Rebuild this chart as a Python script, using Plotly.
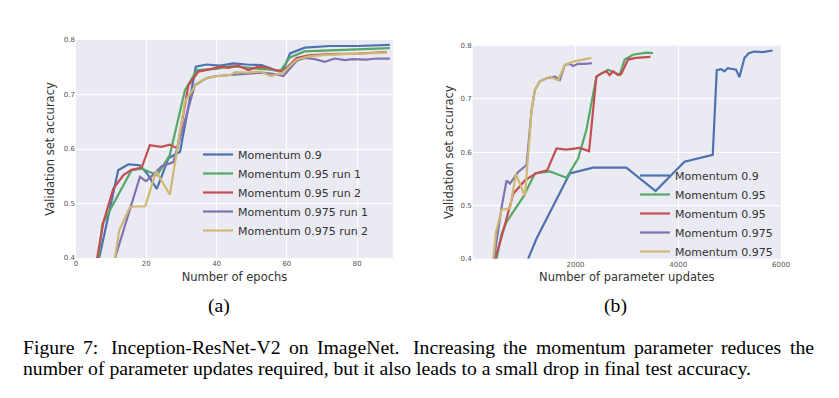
import plotly.graph_objects as go

# ---------------- data ----------------
# (a) accuracy vs epochs
ep_m09 = [6.6, 12.0, 14.9, 18.2, 20.2, 23.0, 26.3, 29.6, 34.1, 37.1, 41.0, 44.8, 48.5, 52.8, 56.6, 58.8, 60.9, 65.1, 72.3, 80.0, 89.3]
acc_m09 = [0.40, 0.561, 0.572, 0.570, 0.555, 0.527, 0.583, 0.595, 0.751, 0.755, 0.753, 0.757, 0.755, 0.754, 0.745, 0.742, 0.7755, 0.786, 0.789, 0.789, 0.791]

ep_m095_r1 = [6.4, 7.5, 15.8, 18.7, 21.0, 23.1, 26.7, 31.0, 34.4, 40.0, 44.0, 48.0, 52.0, 56.0, 58.0, 60.9, 65.0, 72.3, 80.0, 89.3]
acc_m095_r1 = [0.40, 0.462, 0.561, 0.564, 0.558, 0.552, 0.589, 0.708, 0.745, 0.747, 0.752, 0.750, 0.748, 0.745, 0.742, 0.768, 0.779, 0.781, 0.782, 0.785]

ep_m095_r2 = [6.0, 7.8, 10.6, 13.5, 15.8, 18.7, 21.0, 24.3, 26.7, 28.8, 32.0, 34.8, 38.0, 41.0, 43.3, 46.2, 49.0, 51.9, 54.7, 56.6, 59.0, 62.8, 66.1, 72.3, 80.0, 88.4]
acc_m095_r2 = [0.40, 0.466, 0.527, 0.552, 0.562, 0.566, 0.607, 0.604, 0.608, 0.601, 0.717, 0.742, 0.746, 0.751, 0.749, 0.753, 0.745, 0.751, 0.749, 0.745, 0.743, 0.767, 0.772, 0.774, 0.775, 0.778]

ep_m0975_r1 = [11.1, 14.9, 18.2, 19.9, 22.0, 24.3, 27.7, 33.8, 37.2, 40.0, 44.0, 48.7, 52.8, 56.0, 59.0, 62.8, 65.1, 68.0, 70.8, 73.6, 76.5, 78.8, 82.6, 85.5, 89.3]
acc_m0975_r1 = [0.40, 0.478, 0.549, 0.541, 0.553, 0.568, 0.576, 0.717, 0.730, 0.734, 0.736, 0.739, 0.740, 0.738, 0.734, 0.762, 0.767, 0.765, 0.760, 0.766, 0.763, 0.765, 0.764, 0.766, 0.766]

ep_m0975_r2 = [11.1, 12.3, 15.4, 19.7, 22.8, 26.7, 31.0, 34.3, 37.2, 40.5, 44.0, 45.3, 48.7, 52.5, 55.3, 58.6, 62.8, 66.1, 72.3, 80.0, 88.4]
acc_m0975_r2 = [0.40, 0.451, 0.494, 0.495, 0.559, 0.516, 0.687, 0.720, 0.730, 0.734, 0.736, 0.741, 0.740, 0.742, 0.734, 0.739, 0.764, 0.770, 0.773, 0.775, 0.777]

# (b) accuracy vs parameter updates
up_m09 = [1080, 1243, 1889, 2342, 2990, 3559, 4122, 4672, 4750, 4833, 4900, 4962, 5126, 5190, 5288, 5372, 5483, 5645, 5837]
acc_b_m09 = [0.40, 0.438, 0.560, 0.571, 0.571, 0.527, 0.582, 0.595, 0.754, 0.756, 0.752, 0.758, 0.755, 0.741, 0.777, 0.786, 0.789, 0.788, 0.791]

up_m095_a = [466, 563, 660, 983, 1210, 1501, 1825, 2051, 2213, 2407, 2633, 2796, 2860, 2957, 3119, 3379, 3507]
acc_b_m095_a = [0.40, 0.447, 0.469, 0.516, 0.560, 0.564, 0.552, 0.588, 0.642, 0.742, 0.755, 0.748, 0.745, 0.774, 0.783, 0.787, 0.786]

up_m095_b = [434, 563, 789, 1016, 1243, 1449, 1631, 1825, 2084, 2265, 2407, 2504, 2601, 2666, 2731, 2828, 2893, 3022, 3184, 3460]
acc_b_m095_b = [0.40, 0.441, 0.522, 0.547, 0.561, 0.566, 0.607, 0.605, 0.608, 0.602, 0.742, 0.748, 0.752, 0.745, 0.752, 0.745, 0.747, 0.774, 0.777, 0.779]

up_m0975_a = [414, 563, 660, 725, 886, 1048, 1146, 1210, 1307, 1437, 1599, 1696, 1793, 1890, 1955, 2052, 2181, 2323]
acc_b_m0975_a = [0.40, 0.497, 0.547, 0.541, 0.563, 0.576, 0.679, 0.717, 0.733, 0.739, 0.742, 0.736, 0.764, 0.766, 0.762, 0.766, 0.766, 0.767]

up_m0975_b = [401, 453, 563, 725, 841, 1016, 1146, 1210, 1307, 1501, 1663, 1793, 1955, 2148, 2310]
acc_b_m0975_b = [0.40, 0.450, 0.492, 0.494, 0.559, 0.517, 0.679, 0.717, 0.733, 0.742, 0.735, 0.764, 0.770, 0.774, 0.777]

names_a = ["Momentum 0.9", "Momentum 0.95 run 1", "Momentum 0.95 run 2", "Momentum 0.975 run 1", "Momentum 0.975 run 2"]
names_b = ["Momentum 0.9", "Momentum 0.95", "Momentum 0.95", "Momentum 0.975", "Momentum 0.975"]

x_ticks_a = [0, 20, 40, 60, 80]
x_ticks_b = [2000, 4000, 6000]
y_ticks = [0.4, 0.5, 0.6, 0.7, 0.8]

caption_line1 = ["Figure", "7:", "Inception-ResNet-V2", "on", "ImageNet.", "Increasing", "the",
                 "momentum", "parameter", "reduces", "the"]
caption_line2 = "number of parameter updates required, but it also leads to a small drop in final test accuracy."

# ---------------- styling ----------------
W, H = 839, 398
OFF = 8  # the page body has an 8px default margin; compensate
colors = ["#4C72B0", "#55A868", "#C44E52", "#8172B2", "#CCB974"]
LW = 2.2
FONT = "DejaVu Sans"


def px(x):
    return (x - OFF) / W


def py(y):
    return 1 - (y - OFF) / H


fig = go.Figure()

series_a = [(ep_m09, acc_m09), (ep_m095_r1, acc_m095_r1), (ep_m095_r2, acc_m095_r2),
            (ep_m0975_r1, acc_m0975_r1), (ep_m0975_r2, acc_m0975_r2)]
series_b = [(up_m09, acc_b_m09), (up_m095_a, acc_b_m095_a), (up_m095_b, acc_b_m095_b),
            (up_m0975_a, acc_b_m0975_a), (up_m0975_b, acc_b_m0975_b)]

for i, (xs, ys) in enumerate(series_a):
    fig.add_trace(go.Scatter(x=xs, y=ys, mode="lines", name=names_a[i],
                             line=dict(color=colors[i], width=LW),
                             xaxis="x", yaxis="y", legend="legend"))
for i, (xs, ys) in enumerate(series_b):
    fig.add_trace(go.Scatter(x=xs, y=ys, mode="lines", name=names_b[i],
                             line=dict(color=colors[i], width=LW),
                             xaxis="x2", yaxis="y2", legend="legend2"))

tickfont = dict(family=FONT, size=7, color="#555555")
titlefont = dict(family=FONT, size=11.5, color="#333333")
axis_common = dict(showgrid=True, gridcolor="white", gridwidth=1, zeroline=False,
                   showline=False, ticks="", tickfont=tickfont, automargin=False)

fig.update_layout(
    width=W, height=H,
    margin=dict(l=0, r=0, t=0, b=0),
    paper_bgcolor="white",
    plot_bgcolor="#EAEAF2",
    showlegend=True,
    xaxis=dict(domain=[px(76), px(393)], range=[0, 90.2], tickvals=x_ticks_a,
               title=dict(text="Number of epochs", font=titlefont, standoff=5),
               anchor="y", **axis_common),
    yaxis=dict(domain=[py(258), py(40)], range=[0.4, 0.8], tickvals=y_ticks, tickformat=".1f",
               title=dict(text="Validation set accuracy", font=titlefont, standoff=6),
               anchor="x", **axis_common),
    xaxis2=dict(domain=[px(472.7), px(781)], range=[0, 6000], tickvals=x_ticks_b,
                title=dict(text="Number of parameter updates", font=titlefont, standoff=5),
                anchor="y2", **axis_common),
    yaxis2=dict(domain=[py(258.7), py(45.7)], range=[0.4, 0.8], tickvals=y_ticks, tickformat=".1f",
                title=dict(text="Validation set accuracy", font=titlefont, standoff=4),
                anchor="x2", **axis_common),
    legend=dict(x=px(198), y=py(140), xanchor="left", yanchor="top",
                bgcolor="rgba(0,0,0,0)", borderwidth=0,
                font=dict(family=FONT, size=11, color="#333333"), tracegroupgap=0),
    legend2=dict(x=px(635), y=py(161), xanchor="left", yanchor="top",
                 bgcolor="rgba(0,0,0,0)", borderwidth=0,
                 font=dict(family=FONT, size=11, color="#333333"), tracegroupgap=0),
)

serif = dict(family="Liberation Serif", size=19.7, color="black")
for text, xc in [("(a)", 219), ("(b)", 615)]:
    fig.add_annotation(xref="paper", yref="paper", x=px(xc), y=py(305), text=text,
                       showarrow=False, xanchor="center", yanchor="middle", font=serif)

word_left = [22, 81.9, 109.9, 288.0, 316.2, 411.5, 502.1, 534.7, 633.0, 720.3, 789.0]
for w, xl in zip(caption_line1, word_left):
    fig.add_annotation(xref="paper", yref="paper", x=px(xl), y=py(347), text=w,
                       showarrow=False, xanchor="left", yanchor="middle", font=serif,
                       xshift=-1)
fig.add_annotation(xref="paper", yref="paper", x=px(22), y=py(368), text=caption_line2,
                   showarrow=False, xanchor="left", yanchor="middle", font=serif, xshift=-1)

fig.write_html("out.html")
